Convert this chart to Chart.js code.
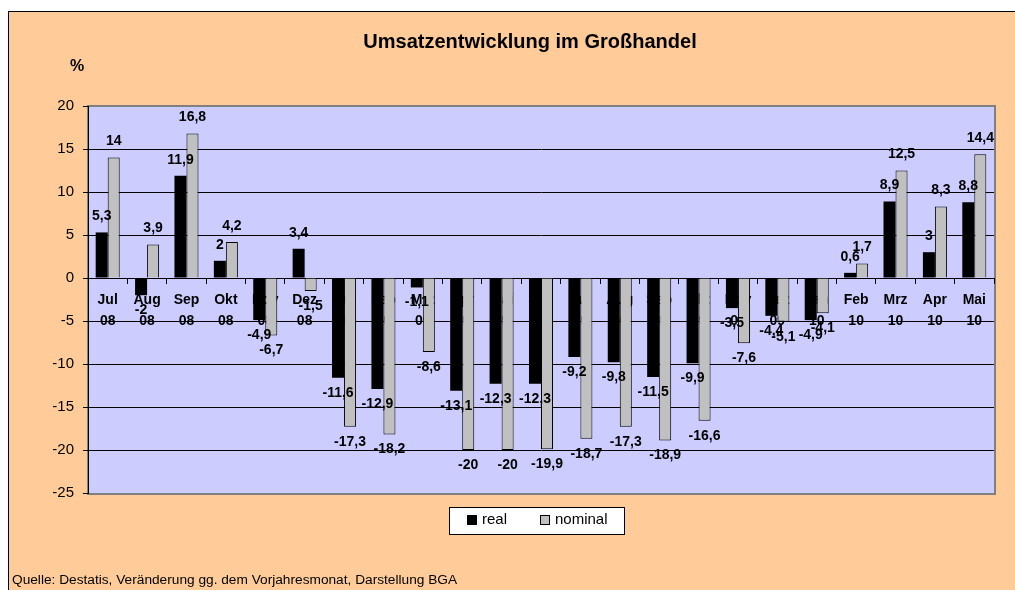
<!DOCTYPE html>
<html>
<head>
<meta charset="utf-8">
<title>Umsatzentwicklung im Großhandel</title>
<script src="https://cdn.jsdelivr.net/npm/chart.js"></script>
<style>
    body { margin: 0; background: #fff; }
    #frame {
        position: absolute; left: 8px; top: 11px;
        width: 1007px; height: 579px;
        background: #ffcc99;
        border-left: 1px solid #000; border-top: 1px solid #000;
        overflow: hidden;
    }
    #myChart { display: block; }
</style>
</head>
<body>
<div id="frame"><canvas id="myChart" width="1007" height="579"></canvas></div>
<script>
// data
var categories = ["Jul 08", "Aug 08", "Sep 08", "Okt 08", "Nov 08", "Dez 08",
    "Jan 09", "Feb 09", "Mrz 09", "Apr 09", "Mai 09", "Jun 09", "Jul 09", "Aug 09",
    "Sep 09", "Okt 09", "Nov 09", "Dez 09", "Jan 10", "Feb 10", "Mrz 10", "Apr 10", "Mai 10"];
var realValues = [5.3, -2, 11.9, 2, -4.9, 3.4, -11.6, -12.9, -1.1, -13.1, -12.3, -12.3,
    -9.2, -9.8, -11.5, -9.9, -3.5, -4.4, -4.9, 0.6, 8.9, 3, 8.8];
var nominalValues = [14, 3.9, 16.8, 4.2, -6.7, -1.5, -17.3, -18.2, -8.6, -20, -20, -19.9,
    -18.7, -17.3, -18.9, -16.6, -7.6, -5.1, -4.1, 1.7, 12.5, 8.3, 14.4];
var seriesNames = ["real", "nominal"];
var yMin = -25;
var yMax = 20;
var yStep = 5;
var titleText = "Umsatzentwicklung im Großhandel";
var unitText = "%";
var sourceText = "Quelle: Destatis, Veränderung gg. dem Vorjahresmonat, Darstellung BGA";

var fontName = "'Liberation Sans', Arial, sans-serif";
Chart.defaults.font.family = fontName;
Chart.defaults.color = "#000";

function germanNumber(v) {
    return String(v).replace(".", ",");
}

// plot area background + grey frame
var plotBackground = {
    id: "plotBackground",
    beforeDraw: function (chart) {
        var ctx = chart.ctx, a = chart.chartArea;
        ctx.save();
        ctx.fillStyle = "#ccccff";
        ctx.fillRect(a.left, a.top, a.right - a.left, a.bottom - a.top);
        ctx.strokeStyle = "#808080";
        ctx.lineWidth = 2;
        ctx.strokeRect(a.left, a.top, a.right - a.left + 1, a.bottom - a.top + 1);
        ctx.restore();
    }
};

// value labels on the bar ends
var barLabels = {
    id: "barLabels",
    afterDatasetsDraw: function (chart) {
        var ctx = chart.ctx;
        ctx.save();
        ctx.font = "bold 14px " + fontName;
        ctx.fillStyle = "#000";
        ctx.textAlign = "center";
        ctx.textBaseline = "middle";
        chart.data.datasets.forEach(function (ds, i) {
            chart.getDatasetMeta(i).data.forEach(function (bar, j) {
                var v = ds.data[j];
                var y = v >= 0 ? bar.y - 16 : bar.y + 15;
                ctx.fillText(germanNumber(v), bar.x, y);
            });
        });
        ctx.restore();
    }
};

// title, unit, source line and boxed legend
var chartTexts = {
    id: "chartTexts",
    afterDraw: function (chart) {
        var ctx = chart.ctx;
        ctx.save();
        ctx.fillStyle = "#000";
        ctx.textBaseline = "middle";

        ctx.textAlign = "center";
        ctx.font = "bold 20px " + fontName;
        ctx.fillText(titleText, 521, 30);

        ctx.font = "bold 16px " + fontName;
        ctx.fillText(unitText, 68, 55);

        ctx.textAlign = "left";
        ctx.font = "13.7px " + fontName;
        ctx.fillText(sourceText, 3, 568);

        // legend box
        ctx.fillStyle = "#fff";
        ctx.fillRect(440, 495, 175, 27);
        ctx.strokeStyle = "#000";
        ctx.lineWidth = 1;
        ctx.strokeRect(440.5, 495.5, 175, 27);

        var itemX = [458, 531];
        ctx.font = "15px " + fontName;
        chart.data.datasets.forEach(function (ds, i) {
            ctx.fillStyle = ds.backgroundColor;
            ctx.fillRect(itemX[i], 503, 10, 10);
            ctx.strokeStyle = "#000";
            ctx.strokeRect(itemX[i] + 0.5, 503.5, 9, 9);
            ctx.fillStyle = "#000";
            ctx.fillText(ds.label, itemX[i] + 15, 508);
        });
        ctx.restore();
    }
};

function buildChart() {
    var ctx = document.getElementById("myChart").getContext("2d");
    var labels = categories.map(function (c) { return c.split(" "); });

    new Chart(ctx, {
        type: "bar",
        data: {
            labels: labels,
            datasets: [{
                label: seriesNames[0],
                data: realValues,
                backgroundColor: "#000000",
                borderColor: "#000000",
                borderWidth: 0
            }, {
                label: seriesNames[1],
                data: nominalValues,
                backgroundColor: "#c0c0c0",
                borderColor: "#000000",
                borderWidth: 1
            }]
        },
        options: {
            responsive: false,
            animation: false,
            events: [],
            devicePixelRatio: 1,
            categoryPercentage: 0.61,
            barPercentage: 1,
            layout: { padding: { left: 0, top: 94, right: 22, bottom: 98 } },
            plugins: {
                legend: { display: false },
                title: { display: false },
                tooltip: { enabled: false }
            },
            scales: {
                x: {
                    position: { y: 0 },
                    grid: { drawOnChartArea: false, tickLength: 5, color: "#000", offset: true },
                    border: { color: "#000", width: 1 },
                    ticks: {
                        autoSkip: false, maxRotation: 0, minRotation: 0, padding: 7,
                        color: "#000",
                        font: { size: 14, weight: "bold", lineHeight: 1.5 }
                    }
                },
                y: {
                    min: yMin,
                    max: yMax,
                    afterFit: function (scale) { scale.width = 79; },
                    grid: {
                        tickLength: 5,
                        tickColor: "#000",
                        color: function (c) {
                            if (c.tick && (c.tick.value === yMax || c.tick.value === yMin)) return "rgba(0,0,0,0)";
                            return "#000";
                        }
                    },
                    border: { color: "#000", width: 1 },
                    ticks: { stepSize: yStep, padding: 9, color: "#000", font: { size: 15 } }
                }
            }
        },
        plugins: [plotBackground, barLabels, chartTexts]
    });
}

buildChart();
</script>
</body>
</html>
